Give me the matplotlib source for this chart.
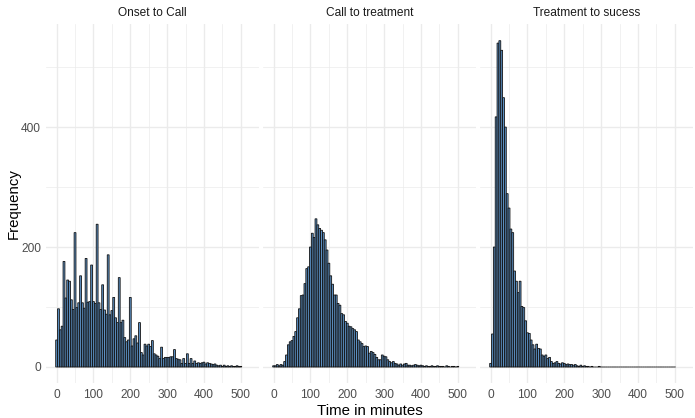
import numpy as np
import matplotlib
matplotlib.use("Agg")
import matplotlib.pyplot as plt

plt.rcParams['font.family'] = ['Liberation Sans', 'DejaVu Sans']

# counts per 5-minute bin, bins centred on 0, 5, 10, ... 500
onset_call = [45, 97, 62, 68, 176, 115, 145, 143, 112, 96,
              224, 99, 107, 152, 107, 98, 181, 108, 109, 170,
              109, 106, 238, 107, 96, 137, 95, 88, 187, 87,
              94, 116, 82, 74, 149, 74, 78, 49, 42, 45,
              116, 35, 47, 52, 40, 74, 24, 20, 38, 35,
              38, 34, 44, 22, 20, 18, 14, 33, 14, 16,
              16, 16, 17, 17, 29, 14, 13, 12, 6, 14,
              6, 22, 6, 14, 6, 10, 6, 7, 6, 7,
              8, 5, 7, 6, 5, 4, 5, 3, 2, 3,
              1, 3, 1, 2, 1, 2, 1, 1, 2, 1,
              1]
call_treat = [2, 2, 4, 2, 4, 3, 9, 20, 37, 42,
              44, 51, 59, 82, 97, 119, 120, 139, 164, 167,
              200, 223, 216, 247, 237, 231, 228, 224, 212, 195,
              173, 152, 138, 120, 120, 106, 103, 89, 87, 76,
              73, 68, 67, 64, 62, 59, 45, 42, 39, 34,
              35, 34, 23, 26, 24, 21, 16, 12, 12, 20,
              18, 17, 12, 9, 7, 9, 6, 5, 3, 5,
              3, 5, 6, 3, 3, 2, 3, 4, 3, 2,
              3, 2, 1, 2, 1, 1, 2, 1, 1, 2,
              1, 1, 1, 0, 2, 1, 0, 1, 1, 0,
              1]
treat_success = [6, 55, 200, 417, 540, 544, 528, 449, 400, 289,
                 265, 230, 224, 160, 143, 124, 143, 101, 99, 77,
                 57, 56, 45, 37, 30, 38, 31, 30, 20, 18,
                 20, 14, 16, 9, 6, 7, 9, 6, 5, 7,
                 6, 4, 5, 4, 4, 3, 4, 2, 1, 3,
                 1, 2, 1, 1, 0, 1, 0, 0, 0, 1] + [0] * 41

titles = ['Onset to Call', 'Call to treatment', 'Treatment to sucess']
series = [onset_call, call_treat, treat_success]

W, H = 695, 418
fig = plt.figure(figsize=(W / 100, H / 100), dpi=100)

def px_axes(left, top, width, height):
    return fig.add_axes([left / W, 1 - (top + height) / H, width / W, height / H])

lefts = [46.4, 263.4, 480.4]
pw, top, ph = 212.8, 24.4, 358.9

for i, (name, counts) in enumerate(zip(titles, series)):
    ax = px_axes(lefts[i], top, pw, ph)
    bins = np.arange(len(counts)) * 5
    bars = ax.bar(bins, counts, width=5, color='#5B8FC2', edgecolor='#111111',
                  linewidth=0.6, zorder=3)
    for b in bars:
        b.set_snap(False)
    ax.set_xlim(-27.75, 527.75)
    ax.set_ylim(-27.2, 571.2)
    ax.set_xticks(np.arange(0, 501, 100))
    ax.set_xticks(np.arange(50, 551, 100), minor=True)
    ax.set_yticks([0, 200, 400])
    ax.set_yticks([100, 300, 500], minor=True)
    ax.grid(which='major', color='#EBEBEB', linewidth=1.0, zorder=0)
    ax.grid(which='minor', color='#EBEBEB', linewidth=0.5, zorder=0)
    for s in ax.spines.values():
        s.set_visible(False)
    ax.tick_params(which='both', length=0, labelsize=8.6, labelcolor='#4D4D4D')
    ax.tick_params(axis='x', pad=4)
    ax.tick_params(axis='y', pad=4)
    if i > 0:
        ax.set_yticklabels([])
    ax.set_title(name, fontsize=8.6, color='#1A1A1A', pad=6)

fig.text(369.8 / W, 1 - 411 / H, 'Time in minutes', ha='center', va='center',
         fontsize=10.8, color='black')
fig.text(14 / W, 1 - 204 / H, 'Frequency', ha='center', va='center',
         rotation=90, fontsize=10.8, color='black')

fig.savefig('out.png', dpi=100)
